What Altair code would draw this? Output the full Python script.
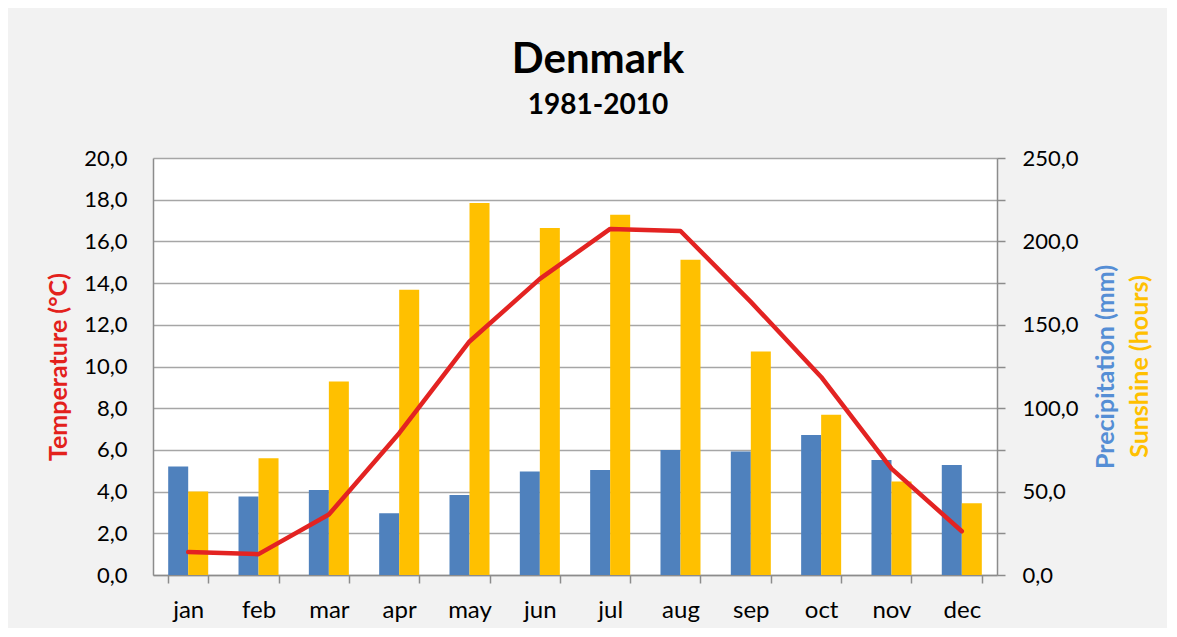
import altair as alt
import pandas as pd

months = ["jan", "feb", "mar", "apr", "may", "jun", "jul", "aug", "sep", "oct", "nov", "dec"]
temperature = [1.1, 1.0, 2.9, 6.8, 11.2, 14.2, 16.6, 16.5, 13.1, 9.5, 5.1, 2.1]
precipitation = [65, 47, 51, 37, 48, 62, 63, 75, 74, 84, 69, 66]
sunshine = [50, 70, 116, 171, 223, 208, 216, 189, 134, 96, 56, 43]
series_names = ["Precipitation (mm)", "Sunshine (hours)"]
series_colors = ["#4f81bd", "#ffc000"]

FONT = "Lato"
W, H = 844, 417

bars_df = pd.DataFrame({
    "month": months * 2,
    "series": [series_names[0]] * 12 + [series_names[1]] * 12,
    "value": precipitation + sunshine,
})
temp_df = pd.DataFrame({"month": months, "temp": temperature})

x_enc = alt.X(
    "month:N", sort=months, title=None,
    scale=alt.Scale(paddingInner=0.431, paddingOuter=0.216),
    axis=alt.Axis(labelAngle=0, tickBand="extent", tickSize=8, tickColor="#8c8c8c",
                  tickWidth=1.5, domainColor="#8c8c8c", domainWidth=1.5,
                  labelFont=FONT, labelFontSize=24, labelColor="#000000",
                  labelPadding=15, grid=False),
)

bars = alt.Chart(bars_df).mark_bar().encode(
    x=x_enc,
    xOffset=alt.XOffset("series:N", sort=series_names, scale=alt.Scale(paddingInner=0)),
    y=alt.Y(
        "value:Q",
        scale=alt.Scale(domain=[0, 250], nice=False, zero=True),
        axis=alt.Axis(
            orient="right", values=list(range(0, 251, 25)), grid=False,
            labelExpr="datum.value % 50 === 0 ? replace(format(datum.value, '.1f'), '.', ',') : ''",
            tickSize=8, tickColor="#8c8c8c", tickWidth=1.5,
            domainColor="#8c8c8c", domainWidth=1.5,
            labelFont=FONT, labelFontSize=22, labelColor="#000000", labelPadding=17,
            title="Precipitation (mm)", titleFont=FONT, titleFontSize=25,
            titleFontWeight="bold", titleColor="#558ed5", titleAngle=270,
            titleAlign="center", titleBaseline="middle", titleX=108, titleY=H / 2,
        ),
    ),
    color=alt.Color("series:N", scale=alt.Scale(domain=series_names, range=series_colors), legend=None),
)

line = alt.Chart(temp_df).mark_line(
    color="#e32322", strokeWidth=4.5, strokeCap="round", strokeJoin="round"
).encode(
    x=alt.X("month:N", sort=months),
    y=alt.Y(
        "temp:Q",
        scale=alt.Scale(domain=[0, 20], nice=False),
        axis=alt.Axis(
            orient="left", values=list(range(0, 21, 2)), grid=True,
            gridColor="#a6a6a6", gridWidth=1.3,
            labelExpr="replace(format(datum.value, '.1f'), '.', ',')",
            ticks=False, domainColor="#8c8c8c", domainWidth=1.5,
            labelFont=FONT, labelFontSize=22, labelColor="#000000", labelPadding=26,
            title="Temperature (°C)", titleFont=FONT, titleFontSize=25,
            titleFontWeight="bold", titleColor="#e3211c", titleAngle=270,
            titleAlign="center", titleBaseline="middle", titleX=-95, titleY=H / 2,
        ),
    ),
)

sun_title = alt.Chart(alt.Data(values=[{}])).mark_text(
    angle=270, font=FONT, fontSize=25, fontWeight="bold", color="#ffc000",
    align="center", baseline="middle",
).encode(
    x=alt.value(W + 143), y=alt.value(H / 2), text=alt.value("Sunshine (hours)")
)

chart = alt.layer(bars, line, sun_title).resolve_scale(y="independent").properties(
    width=W, height=H,
    title=alt.TitleParams(
        text="Denmark", subtitle="1981-2010", anchor="middle", frame="group", dx=23,
        font=FONT, fontSize=42, fontWeight="bold", color="#000000",
        subtitleFont=FONT, subtitleFontSize=28, subtitleFontWeight="bold",
        subtitleColor="#000000", subtitlePadding=10, offset=26,
    ),
    autosize=alt.AutoSizeParams(type="none"),
    padding={"left": 145, "top": 150, "right": 170, "bottom": 53},
    background="#f2f2f2",
).configure_view(stroke=None, fill="#ffffff")

chart.save("out.html", embed_options={"renderer": "svg", "actions": False})
